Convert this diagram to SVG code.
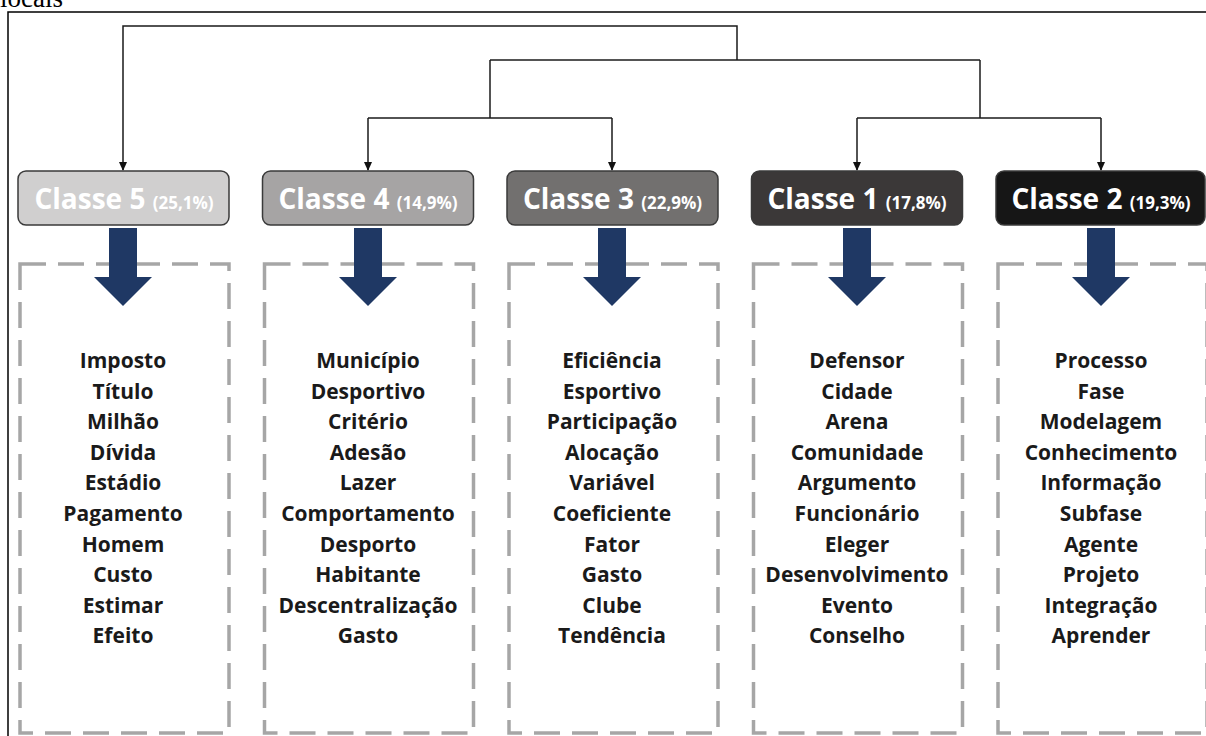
<svg xmlns="http://www.w3.org/2000/svg" width="1206" height="736" viewBox="0 0 1206 736">
<defs>
<style>
.hdr{stroke:#3a3a3a;stroke-width:1.5}
.ht{font-family:"Open Sans","Liberation Sans",sans-serif;font-weight:700;fill:#ffffff;text-anchor:middle}
.big{font-size:28px}
.sm{font-size:17px}
.dash{fill:none;stroke:#a6a6a6;stroke-width:3.5;stroke-dasharray:26 12}
.blue{fill:#1f3864}
.w{font-family:"Open Sans","Liberation Sans",sans-serif;font-weight:700;font-size:21px;fill:#1a1a1a;text-anchor:middle}
.con{fill:none;stroke:#1a1a1a;stroke-width:1.5}
</style>
<marker id="ah" markerWidth="10" markerHeight="10" refX="8" refY="5" orient="auto" markerUnits="userSpaceOnUse">
<path d="M0,1 L9,5 L0,9 Z" fill="#111"/>
</marker>
</defs>
<rect width="1206" height="736" fill="#ffffff"/>
<text x="0" y="7" font-family="'Liberation Serif',serif" font-size="27" fill="#000">locais</text>
<rect x="8" y="12" width="1210" height="740" fill="none" stroke="#000" stroke-width="1.5"/>

<g id="connectors" class="con">
<path d="M737,60 V26 H123 V170" marker-end="url(#ah)"/>
<path d="M490,60 H980"/>
<path d="M490,60 V118"/>
<path d="M368,118 H612"/>
<path d="M980,60 V118"/>
<path d="M857,118 H1101"/>
<path d="M368,118 V170" marker-end="url(#ah)"/>
<path d="M612,118 V170" marker-end="url(#ah)"/>
<path d="M857,118 V170" marker-end="url(#ah)"/>
<path d="M1101,118 V170" marker-end="url(#ah)"/>
</g>

<g id="classe5">
<rect class="hdr" x="18" y="171" width="211" height="54" rx="8" fill="#d0cfcf"/>
<text class="ht" x="124" y="209"><tspan class="big">Classe 5 </tspan><tspan class="sm">(25,1%)</tspan></text>
<rect class="dash" x="20" y="264" width="209" height="469"/>
<path class="blue" d="M109,228 H137 V277 H152 L123,306 L94,277 H109 Z"/>
<text class="w" x="123" y="368">Imposto</text>
<text class="w" x="123" y="398.6">Título</text>
<text class="w" x="123" y="429.2">Milhão</text>
<text class="w" x="123" y="459.8">Dívida</text>
<text class="w" x="123" y="490.4">Estádio</text>
<text class="w" x="123" y="521">Pagamento</text>
<text class="w" x="123" y="551.6">Homem</text>
<text class="w" x="123" y="582.2">Custo</text>
<text class="w" x="123" y="612.8">Estimar</text>
<text class="w" x="123" y="643.4">Efeito</text>
</g>

<g id="classe4">
<rect class="hdr" x="262.5" y="171" width="211" height="54" rx="8" fill="#a6a4a4"/>
<text class="ht" x="368" y="209"><tspan class="big">Classe 4 </tspan><tspan class="sm">(14,9%)</tspan></text>
<rect class="dash" x="264.5" y="264" width="209" height="469"/>
<path class="blue" d="M354,228 H382 V277 H397 L368,306 L339,277 H354 Z"/>
<text class="w" x="368" y="368">Município</text>
<text class="w" x="368" y="398.6">Desportivo</text>
<text class="w" x="368" y="429.2">Critério</text>
<text class="w" x="368" y="459.8">Adesão</text>
<text class="w" x="368" y="490.4">Lazer</text>
<text class="w" x="368" y="521">Comportamento</text>
<text class="w" x="368" y="551.6">Desporto</text>
<text class="w" x="368" y="582.2">Habitante</text>
<text class="w" x="368" y="612.8">Descentralização</text>
<text class="w" x="368" y="643.4">Gasto</text>
</g>

<g id="classe3">
<rect class="hdr" x="507" y="171" width="211" height="54" rx="8" fill="#72706f"/>
<text class="ht" x="612.5" y="209"><tspan class="big">Classe 3 </tspan><tspan class="sm">(22,9%)</tspan></text>
<rect class="dash" x="509" y="264" width="209" height="469"/>
<path class="blue" d="M598,228 H626 V277 H641 L612,306 L583,277 H598 Z"/>
<text class="w" x="612" y="368">Eficiência</text>
<text class="w" x="612" y="398.6">Esportivo</text>
<text class="w" x="612" y="429.2">Participação</text>
<text class="w" x="612" y="459.8">Alocação</text>
<text class="w" x="612" y="490.4">Variável</text>
<text class="w" x="612" y="521">Coeficiente</text>
<text class="w" x="612" y="551.6">Fator</text>
<text class="w" x="612" y="582.2">Gasto</text>
<text class="w" x="612" y="612.8">Clube</text>
<text class="w" x="612" y="643.4">Tendência</text>
</g>

<g id="classe1">
<rect class="hdr" x="751.5" y="171" width="211" height="54" rx="8" fill="#3b3838"/>
<text class="ht" x="857" y="209"><tspan class="big">Classe 1 </tspan><tspan class="sm">(17,8%)</tspan></text>
<rect class="dash" x="753.5" y="264" width="209" height="469"/>
<path class="blue" d="M843,228 H871 V277 H886 L857,306 L828,277 H843 Z"/>
<text class="w" x="857" y="368">Defensor</text>
<text class="w" x="857" y="398.6">Cidade</text>
<text class="w" x="857" y="429.2">Arena</text>
<text class="w" x="857" y="459.8">Comunidade</text>
<text class="w" x="857" y="490.4">Argumento</text>
<text class="w" x="857" y="521">Funcionário</text>
<text class="w" x="857" y="551.6">Eleger</text>
<text class="w" x="857" y="582.2">Desenvolvimento</text>
<text class="w" x="857" y="612.8">Evento</text>
<text class="w" x="857" y="643.4">Conselho</text>
</g>

<g id="classe2">
<rect class="hdr" x="996" y="171" width="209" height="54" rx="8" fill="#161616"/>
<text class="ht" x="1101" y="209"><tspan class="big">Classe 2 </tspan><tspan class="sm">(19,3%)</tspan></text>
<rect class="dash" x="998" y="264" width="209" height="469"/>
<path class="blue" d="M1087,228 H1115 V277 H1130 L1101,306 L1072,277 H1087 Z"/>
<text class="w" x="1101" y="368">Processo</text>
<text class="w" x="1101" y="398.6">Fase</text>
<text class="w" x="1101" y="429.2">Modelagem</text>
<text class="w" x="1101" y="459.8">Conhecimento</text>
<text class="w" x="1101" y="490.4">Informação</text>
<text class="w" x="1101" y="521">Subfase</text>
<text class="w" x="1101" y="551.6">Agente</text>
<text class="w" x="1101" y="582.2">Projeto</text>
<text class="w" x="1101" y="612.8">Integração</text>
<text class="w" x="1101" y="643.4">Aprender</text>
</g>
</svg>
